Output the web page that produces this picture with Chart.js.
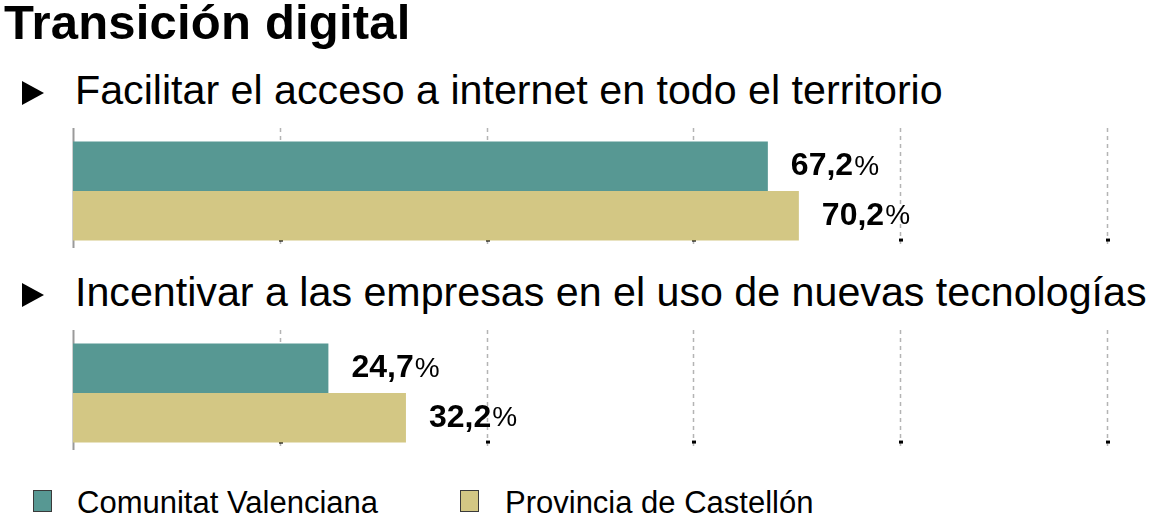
<!DOCTYPE html>
<html>
<head>
<meta charset="utf-8">
<script src="https://cdn.jsdelivr.net/npm/chart.js@4.4.1/dist/chart.umd.min.js"></script>
<style>
  html, body { margin: 0; padding: 0; background: #fff; }
  body { width: 1152px; height: 526px; position: relative; overflow: hidden; font-family: "Liberation Sans", Arial, Helvetica, sans-serif; color: #000; }
  .abs { position: absolute; white-space: nowrap; }
  #title { left: 4px; top: -2px; font-size: 49px; line-height: 49px; font-weight: bold; letter-spacing: 0.2px; }
  .sub { left: 75px; font-size: 41.2px; line-height: 41.2px; }
  .tri { width: 0; height: 0; border-top: 12px solid transparent; border-bottom: 12px solid transparent; border-left: 22px solid #000; }
  .chartbox { left: 0; width: 1152px; height: 122px; }
  .leg { font-size: 31px; line-height: 31px; }
  .sw { width: 17px; height: 20px; border: 1.5px solid #3a3a3a; }
</style>
</head>
<body>
<div id="title" class="abs">Transición digital</div>
<div id="root"></div>
<script>
// ---- data ----
const categories = ['Facilitar el acceso a internet en todo el territorio', 'Incentivar a las empresas en el uso de nuevas tecnologías'];
const seriesNames = ['Comunitat Valenciana', 'Provincia de Castellón'];
const comunitatValues = [67.2, 24.7];
const castellonValues = [70.2, 32.2];
const xTicks = [0, 20, 40, 60, 80, 100];
const seriesColors = ['#579893', '#d3c784'];

const root = document.getElementById('root');
const groupTop = [0, 202];

function fmt(v) { return v.toFixed(1).replace('.', ','); }

const gridPlugin = {
  id: 'customGrid',
  beforeDatasetsDraw(chart) {
    const ctx = chart.ctx, x = chart.scales.x, a = chart.chartArea;
    ctx.save();
    xTicks.forEach(t => {
      const px = Math.round(x.getPixelForValue(t)) + 0.5;
      ctx.beginPath();
      if (t === 0) { ctx.setLineDash([]); ctx.strokeStyle = '#9a9a9a'; ctx.lineWidth = 2; }
      else { ctx.setLineDash([4, 4]); ctx.strokeStyle = '#b4b4b4'; ctx.lineWidth = 1.5; }
      ctx.moveTo(px, a.top - 4);
      ctx.lineTo(px, a.bottom - 2);
      ctx.stroke();
    });
    // small black tick marks near the bottom of the bars
    const meta = chart.getDatasetMeta(1);
    const bottom = meta.data[0].y + meta.data[0].height / 2;
    ctx.fillStyle = '#000';
    xTicks.forEach(t => {
      if (t === 0) return;
      const px = Math.round(x.getPixelForValue(t));
      ctx.fillRect(px - 1, bottom - 2, 4, 3);
    });
    ctx.restore();
  }
};

const labelPlugin = {
  id: 'valueLabels',
  afterDatasetsDraw(chart) {
    const ctx = chart.ctx;
    ctx.save();
    ctx.textBaseline = 'middle';
    ctx.fillStyle = '#000';
    chart.data.datasets.forEach((ds, di) => {
      const meta = chart.getDatasetMeta(di);
      meta.data.forEach((bar, i) => {
        const v = ds.data[i];
        const num = fmt(v);
        let x = bar.x + 23;
        const y = bar.y;
        ctx.font = 'bold 32px "Liberation Sans", Arial, sans-serif';
        ctx.fillText(num, x, y);
        x += ctx.measureText(num).width + 1;
        ctx.font = '28px "Liberation Sans", Arial, sans-serif';
        ctx.fillText('%', x, y + 1);
      });
    });
    ctx.restore();
  }
};

categories.forEach((cat, gi) => {
  const off = groupTop[gi];
  const tri = document.createElement('div');
  tri.className = 'abs tri';
  tri.style.left = '22px';
  tri.style.top = (81 + off) + 'px';
  root.appendChild(tri);

  const sub = document.createElement('div');
  sub.className = 'abs sub';
  sub.style.top = (70 + off) + 'px';
  sub.textContent = cat;
  root.appendChild(sub);

  const box = document.createElement('div');
  box.className = 'abs chartbox';
  box.style.top = (128 + off) + 'px';
  const cv = document.createElement('canvas');
  box.appendChild(cv);
  root.appendChild(box);

  new Chart(cv, {
    type: 'bar',
    data: {
      labels: [cat],
      datasets: [
        { label: seriesNames[0], data: [comunitatValues[gi]], backgroundColor: seriesColors[0] },
        { label: seriesNames[1], data: [castellonValues[gi]], backgroundColor: seriesColors[1] }
      ]
    },
    options: {
      indexAxis: 'y',
      responsive: true,
      maintainAspectRatio: false,
      animation: false,
      layout: { padding: { left: 73, right: 45, top: 4, bottom: 0 } },
      datasets: { bar: { categoryPercentage: 0.84, barPercentage: 1.0, borderWidth: 0 } },
      scales: {
        x: { min: 0, max: 100, display: false, grid: { display: false } },
        y: { display: false, grid: { display: false } }
      },
      plugins: { legend: { display: false }, tooltip: { enabled: false } }
    },
    plugins: [gridPlugin, labelPlugin]
  });
});

// legend built from series names
const legPos = [{ sq: 33, tx: 77 }, { sq: 460, tx: 505 }];
seriesNames.forEach((name, i) => {
  const sw = document.createElement('div');
  sw.className = 'abs sw';
  sw.style.left = legPos[i].sq + 'px';
  sw.style.top = '490px';
  sw.style.background = seriesColors[i];
  root.appendChild(sw);
  const t = document.createElement('div');
  t.className = 'abs leg';
  t.style.left = legPos[i].tx + 'px';
  t.style.top = '487px';
  t.textContent = name;
  root.appendChild(t);
});
</script>
</body>
</html>
